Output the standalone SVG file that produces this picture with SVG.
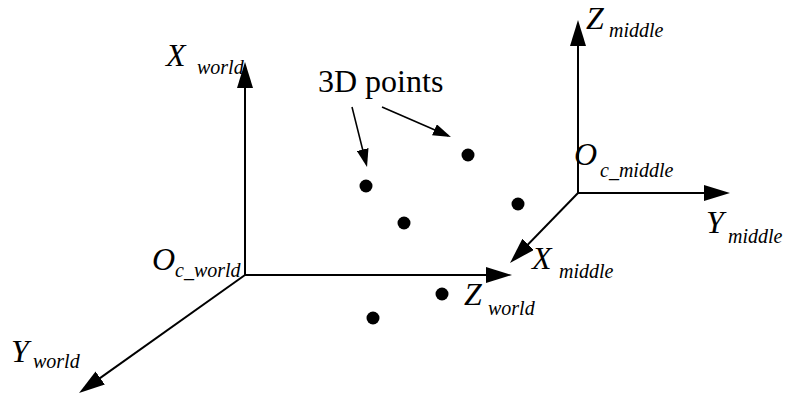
<svg xmlns="http://www.w3.org/2000/svg" width="786" height="402" viewBox="0 0 786 402">
<style>
.ax{stroke:#000;stroke-width:2;fill:none;marker-end:url(#big)}
.pa{stroke:#000;stroke-width:1.6;fill:none;marker-end:url(#small)}
.m{font-family:"Liberation Serif","Times New Roman",serif;font-style:italic;font-size:32px;fill:#000}
.s{font-family:"Liberation Serif","Times New Roman",serif;font-style:italic;font-size:20px;fill:#000}
.t{font-family:"Liberation Serif","Times New Roman",serif;font-size:32px;fill:#000}
.pt{fill:#000}
</style>
<defs>
<marker id="big" markerUnits="userSpaceOnUse" markerWidth="26" markerHeight="16" refX="21" refY="8" orient="auto" viewBox="0 0 26 16"><path d="M0,0 L26,8 L0,16 z" fill="#000"/></marker>
<marker id="small" markerUnits="userSpaceOnUse" markerWidth="18" markerHeight="12" refX="15" refY="6" orient="auto" viewBox="0 0 18 12"><path d="M0,0 L18,6 L0,12 z" fill="#000"/></marker>
</defs>
<rect width="786" height="402" fill="#fff"/>
<g id="connectors">
<line class="ax" x1="245" y1="275" x2="245" y2="67"/>
<line class="ax" x1="245" y1="275" x2="507" y2="275"/>
<line class="ax" x1="245" y1="275" x2="83.1" y2="390.1"/>
<line class="ax" x1="578" y1="193" x2="578" y2="25"/>
<line class="ax" x1="578" y1="193" x2="725" y2="193"/>
<line class="ax" x1="578" y1="193" x2="513.5" y2="259.4"/>
<line class="pa" x1="352" y1="107" x2="366.3" y2="164.1"/>
<line class="pa" x1="382" y1="107" x2="448.2" y2="135.8"/>
</g>
<g id="points">
<circle class="pt" cx="468" cy="155" r="6.5"/>
<circle class="pt" cx="366" cy="186" r="6.5"/>
<circle class="pt" cx="518" cy="204" r="6.5"/>
<circle class="pt" cx="404" cy="223" r="6.5"/>
<circle class="pt" cx="442" cy="294" r="6.5"/>
<circle class="pt" cx="373" cy="318" r="6.5"/>
</g>
<g id="label-3d"><text class="t" x="318" y="92">3D points</text></g>
<g id="X_world"><text class="m" x="166" y="66" font-size="33">X</text><text class="s" x="197" y="74">world</text></g>
<g id="O_c_world"><text class="m" x="152" y="270">O</text><text class="s" x="175" y="277">c_world</text></g>
<g id="Y_world"><text class="m" x="11" y="362" font-size="36">Y</text><text class="s" x="33" y="368">world</text></g>
<g id="Z_world"><text class="m" x="464" y="305">Z</text><text class="s" x="488" y="315">world</text></g>
<g id="Z_middle"><text class="m" x="586" y="29" font-size="32">Z</text><text class="s" x="609" y="37">middle</text></g>
<g id="O_c_middle"><text class="m" x="574" y="165" font-size="36">O</text><text class="s" x="600" y="177">c_middle</text></g>
<g id="Y_middle"><text class="m" x="706" y="233" font-size="35">Y</text><text class="s" x="728" y="243">middle</text></g>
<g id="X_middle"><text class="m" x="532" y="269">X</text><text class="s" x="559" y="278">middle</text></g>
</svg>
